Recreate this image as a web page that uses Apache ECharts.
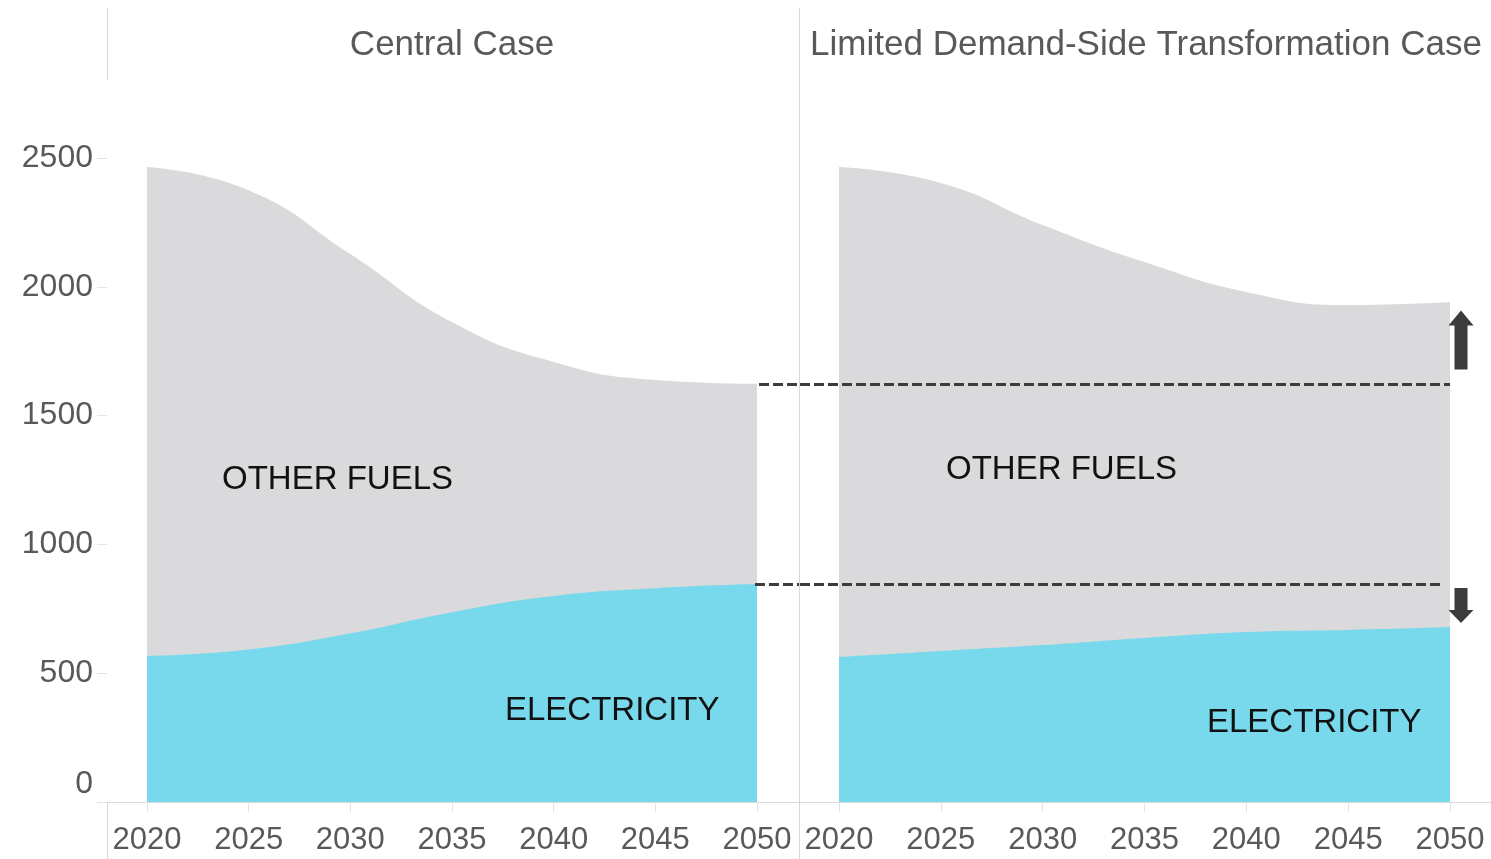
<!DOCTYPE html>
<html>
<head>
<meta charset="utf-8">
<title>Final energy demand: Central vs Limited Demand-Side Transformation</title>
<script src="https://cdn.jsdelivr.net/npm/echarts@6/dist/echarts.min.js"></script>
<style>
  html, body { margin: 0; padding: 0; background: #ffffff; }
  #chart { width: 1491px; height: 859px; }
</style>
</head>
<body>
<div id="chart"></div>
<script>
// years shown on both panels
const years = [2020, 2025, 2030, 2035, 2040, 2045, 2050];
const yTicks = [0, 500, 1000, 1500, 2000, 2500];
const panelTitles = ['Central Case', 'Limited Demand-Side Transformation Case'];

// values: electricity band and top of the other-fuels band
const centralElectricity = [567, 592, 655, 737, 800, 830, 846];
const centralTotal = [2465, 2375, 2127, 1863, 1708, 1638, 1623];
const limitedElectricity = [563, 586, 609, 637, 660, 668, 679];
const limitedTotal = [2465, 2403, 2240, 2096, 1980, 1929, 1941];

const FONT = '"Liberation Sans", Arial, sans-serif';
const GREY_TEXT = '#595959';
const RULE = '#d9d9d9';
const BLUE = '#78d8ec';
const GREY_AREA = '#dadadc';
const DARK = '#3c3c3c';

const pairs = (vals) => years.map((y, i) => [y, vals[i]]);

// central 2050 levels, carried over as dashed references
const last = years.length - 1;
const refElec = centralElectricity[last];
const refTotal = centralTotal[last];

const xRanges = [[2018.033, 2052.115], [2018.085, 2052.012]];

function xAxisFor(idx) {
  return {
    type: 'value',
    gridIndex: idx,
    min: xRanges[idx][0],
    max: xRanges[idx][1],
    axisLine: { show: true, lineStyle: { color: RULE, width: 1 } },
    axisTick: { show: true, length: 10, customValues: years, lineStyle: { color: '#e3e3e3' } },
    axisLabel: {
      customValues: years,
      color: GREY_TEXT,
      fontFamily: FONT,
      fontSize: 31,
      margin: 23,
      formatter: (v) => String(v)
    },
    splitLine: { show: false }
  };
}

function yAxisFor(idx) {
  return {
    type: 'value',
    gridIndex: idx,
    min: yTicks[0],
    max: yTicks[yTicks.length - 1],
    interval: yTicks[1] - yTicks[0],
    axisLine: { show: false },
    axisTick: { show: idx === 0, length: 10, lineStyle: { color: '#e3e3e3' } },
    axisLabel: {
      show: idx === 0,
      color: GREY_TEXT,
      fontFamily: FONT,
      fontSize: 32,
      margin: 14,
      // the zero label sits a little above the axis line
      formatter: (v) => (v === 0 ? '{z|0}' : String(v)),
      rich: { z: { color: GREY_TEXT, fontFamily: FONT, fontSize: 32, padding: [0, 0, 36, 0] } }
    },
    splitLine: { show: false }
  };
}

function areaSeries(name, vals, idx, color) {
  return {
    name: name,
    type: 'line',
    xAxisIndex: idx,
    yAxisIndex: idx,
    smooth: 0.5,
    showSymbol: false,
    lineStyle: { width: 0 },
    areaStyle: { color: color, opacity: 1 },
    data: pairs(vals),
    silent: true
  };
}

const dashStyle = { color: DARK, width: 3, type: [10, 4] };

// grey total first, blue electricity drawn over it
const series = [
  areaSeries('Other fuels', centralTotal, 0, GREY_AREA),
  areaSeries('Electricity', centralElectricity, 0, BLUE),
  areaSeries('Other fuels', limitedTotal, 1, GREY_AREA),
  areaSeries('Electricity', limitedElectricity, 1, BLUE)
];

// dashed lines: from the central 2050 edge across to the limited case 2050
series[1].markLine = {
  silent: true,
  symbol: 'none',
  label: { show: false },
  lineStyle: dashStyle,
  data: [
    [{ coord: [2050.1, refTotal] }, { coord: [xRanges[0][1], refTotal] }],
    [{ coord: [2049.9, refElec] }, { coord: [xRanges[0][1], refElec] }]
  ]
};
series[3].markLine = {
  silent: true,
  symbol: 'none',
  label: { show: false },
  lineStyle: dashStyle,
  data: [
    [{ coord: [xRanges[1][0], refTotal] }, { coord: [2050, refTotal] }],
    [{ coord: [xRanges[1][0], refElec] }, { coord: [2049.65, refElec] }]
  ]
};
// up / down arrows next to the limited case
series[3].markPoint = {
  silent: true,
  label: { show: false },
  itemStyle: { color: DARK },
  data: [
    {
      coord: [2050.54, 1793],
      symbol: 'path://M12.5,0 L25,15 L19,15 L19,59 L6,59 L6,15 L0,15 Z',
      symbolSize: [25, 59]
    },
    {
      coord: [2050.54, 763],
      symbol: 'path://M6,0 L19,0 L19,22 L25,22 L12.5,35 L0,22 L6,22 Z',
      symbolSize: [25, 35]
    }
  ]
};

function text(x, y, str, size, color, align) {
  return {
    type: 'text',
    x: x,
    y: y,
    silent: true,
    z: 100,
    style: {
      text: str,
      fontFamily: FONT,
      fontSize: size,
      fill: color,
      textAlign: align || 'left',
      textVerticalAlign: 'middle'
    }
  };
}

function rule(x1, y1, x2, y2) {
  return {
    type: 'line',
    silent: true,
    z: 50,
    shape: { x1: x1, y1: y1, x2: x2, y2: y2 },
    style: { stroke: RULE, lineWidth: 1 }
  };
}

const chart = echarts.init(document.getElementById('chart'), null, { renderer: 'canvas' });
chart.setOption({
  backgroundColor: '#ffffff',
  animation: false,
  grid: [
    { left: 107, top: 158, width: 693, height: 644 },
    { left: 800, top: 158, width: 691, height: 644 }
  ],
  xAxis: [xAxisFor(0), xAxisFor(1)],
  yAxis: [yAxisFor(0), yAxisFor(1)],
  series: series,
  graphic: [
    // pane borders
    rule(107.5, 8, 107.5, 80),
    rule(107.5, 802, 107.5, 859),
    rule(799.5, 8, 799.5, 859),
    // panel headers
    text(452, 45, panelTitles[0], 35, GREY_TEXT, 'center'),
    text(1146, 45, panelTitles[1], 35, GREY_TEXT, 'center'),
    // area labels
    text(222, 480, 'OTHER FUELS', 33, '#111111'),
    text(505, 711, 'ELECTRICITY', 33, '#111111'),
    text(946, 470, 'OTHER FUELS', 33, '#111111'),
    text(1207, 723, 'ELECTRICITY', 33, '#111111')
  ]
});
</script>
</body>
</html>
